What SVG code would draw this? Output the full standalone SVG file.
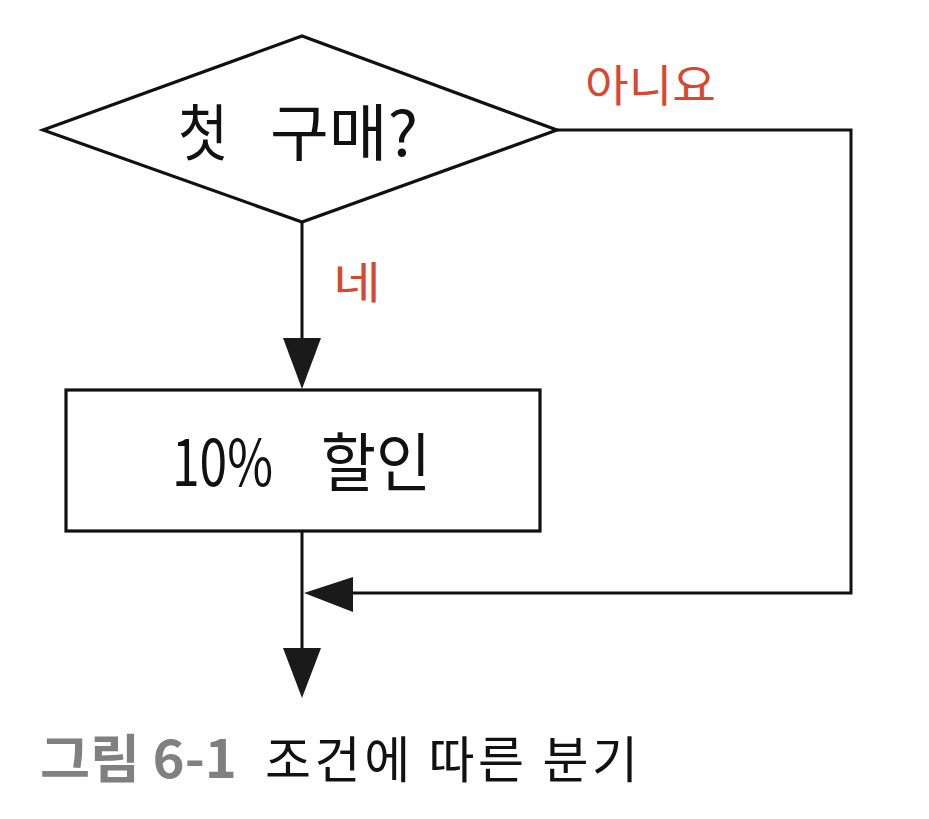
<svg xmlns="http://www.w3.org/2000/svg" width="929" height="819" viewBox="0 0 929 819">
<defs>
<style>
.shape{fill:#fff;stroke:#111;stroke-width:3.2}
.line{fill:none;stroke:#111;stroke-width:3}
.head{fill:#1a1a1a;stroke:none}
.t{font-family:"Noto Sans CJK KR","Noto Sans",sans-serif;fill:#111}
.red{font-family:"Noto Sans CJK KR","Noto Sans",sans-serif;fill:#d9472f}
</style>
</defs>
<rect width="929" height="819" fill="#fff"/>
<g id="connectors">
<line class="line" x1="302" y1="222" x2="302" y2="340"/>
<polygon class="head" points="283,338 321,338 302,389"/>
<line class="line" x1="302" y1="531" x2="302" y2="650"/>
<polygon class="head" points="283,648 321,648 302,698"/>
<polyline class="line" points="557,130 851,130 851,593 350,593"/>
<polygon class="head" points="353,577 353,612 304,593"/>
<text class="red" x="585" y="102" font-size="44" textLength="131" lengthAdjust="spacingAndGlyphs">아니요</text>
<text class="red" x="333" y="299" font-size="44" textLength="48" lengthAdjust="spacingAndGlyphs">네</text>
</g>
<g id="decision">
<polygon class="shape" points="43,130 302,36 557,130 302,222"/>
<text class="t" font-size="62"><tspan x="178" y="156" textLength="50" lengthAdjust="spacingAndGlyphs">첫</tspan><tspan x="270" y="156" textLength="148" lengthAdjust="spacingAndGlyphs">구매?</tspan></text>
</g>
<g id="discount">
<rect class="shape" x="66" y="390" width="474" height="141"/>
<text class="t" font-size="64"><tspan x="172" y="486" textLength="101" lengthAdjust="spacingAndGlyphs">10%</tspan><tspan x="321" y="486" textLength="110" lengthAdjust="spacingAndGlyphs">할인</tspan></text>
</g>
<g id="caption">
<text x="40" y="778" font-size="52" font-family="'Noto Sans CJK KR','Noto Sans',sans-serif" font-weight="bold" fill="#808080" textLength="197" lengthAdjust="spacingAndGlyphs">그림 6-1</text>
<text x="265" y="778" font-size="50" font-family="'Noto Sans CJK KR','Noto Sans',sans-serif" fill="#111" textLength="373" lengthAdjust="spacing">조건에 따른 분기</text>
</g>
</svg>
